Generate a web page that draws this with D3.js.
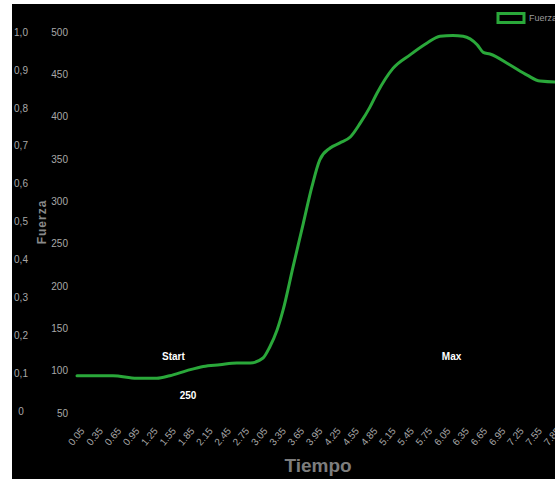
<!DOCTYPE html>
<html>
<head>
<meta charset="utf-8">
<script src="https://cdn.jsdelivr.net/npm/d3@7"></script>
<style>
  html, body { margin: 0; padding: 0; background: #fff; }
  svg { display: block; }
  text { font-family: "Liberation Sans Narrow", "Arial Narrow", "Liberation Sans", sans-serif; }
</style>
</head>
<body>
<svg id="chart" width="555" height="479"></svg>
<script>
// ---- data ----
const times = [0.05, 0.64, 1.03, 1.36, 1.57, 1.85, 2.12, 2.39, 2.67, 2.89, 3.10, 3.21, 3.33, 3.43, 3.59, 3.76, 3.90, 4.03, 4.20, 4.36, 4.53, 4.69, 4.85, 4.97, 5.23, 5.51, 5.79, 6.00, 6.21, 6.38, 6.61, 6.71, 6.82, 7.15, 7.43, 7.64, 7.89, 7.97];
const fuerza = [94, 94, 91, 91, 94, 100, 105, 107, 109, 109, 115, 128, 148, 172, 222, 274, 317, 349, 363, 369, 376, 392, 411, 428, 457, 473, 487, 495, 496, 495, 485, 476, 474, 461, 449, 442, 441, 441];
const xTickLabels = [0.05, 0.35, 0.65, 0.95, 1.25, 1.55, 1.85, 2.15, 2.45, 2.75, 3.05, 3.35, 3.65, 3.95, 4.25, 4.55, 4.85, 5.15, 5.45, 5.75, 6.05, 6.35, 6.65, 6.95, 7.25, 7.55, 7.85];
const forceTicks = [50, 100, 150, 200, 250, 300, 350, 400, 450, 500];
const leftTicks = [0, 0.1, 0.2, 0.3, 0.4, 0.5, 0.6, 0.7, 0.8, 0.9, 1.0];
const annotations = [
  { label: "Start", t: 1.63, v: 116.5 },
  { label: "250", t: 1.87, v: 70.5 },
  { label: "Max", t: 6.19, v: 117 }
];
const seriesName = "Fuerza";
const xTitle = "Tiempo";
const yTitle = "Fuerza";

// ---- layout ----
const svg = d3.select("#chart");
const green = "#2aa83a";
const tickColor = "#a8a8a8";

svg.append("rect").attr("x", 12).attr("y", 4).attr("width", 543).attr("height", 475).attr("fill", "#000");

const x = d3.scaleLinear().domain([0.05, 8.0]).range([77, 77 + 7.95 * 61]);
const yF = d3.scaleLinear().domain([50, 500]).range([413, 32]);
const yL = d3.scaleLinear().domain([0, 1]).range([411, 32]);

// left (empty) axis
const gL = svg.append("g").attr("transform", "translate(27,0)")
  .call(d3.axisLeft(yL).tickValues(leftTicks).tickSize(0).tickPadding(0)
    .tickFormat(d => d === 0 ? "0" : d3.format(".1f")(d).replace(".", ",")));
gL.select(".domain").remove();
gL.selectAll("text").attr("fill", tickColor).attr("font-size", 10).attr("text-anchor", "middle").attr("x", -6);

// force axis
const gF = svg.append("g").attr("transform", "translate(68,0)")
  .call(d3.axisLeft(yF).tickValues(forceTicks).tickSize(0).tickPadding(0));
gF.select(".domain").remove();
gF.selectAll("text").attr("fill", tickColor).attr("font-size", 10);

// x axis
const gX = svg.append("g").attr("transform", "translate(0,0)")
  .call(d3.axisBottom(x).tickValues(xTickLabels).tickSize(0).tickFormat(d3.format(".2f")));
gX.select(".domain").remove();
gX.selectAll(".tick text")
  .attr("fill", tickColor).attr("font-size", 10)
  .attr("text-anchor", "end")
  .attr("y", 0).attr("dy", "0.35em")
  .attr("transform", "translate(5,429) rotate(-50)");

// axis titles
svg.append("text").attr("x", 318).attr("y", 472).attr("text-anchor", "middle")
  .attr("fill", "#7d7d7d").attr("font-size", 19).attr("font-weight", "bold")
  .style("font-family", "'Liberation Sans', Arial, sans-serif")
  .text(xTitle);
svg.append("text").attr("transform", "translate(46,222) rotate(-90)").attr("text-anchor", "middle")
  .attr("fill", "#8a8a8a").attr("font-size", 12).attr("font-weight", "bold")
  .style("letter-spacing", "1px")
  .text(yTitle);

// line
const line = d3.line().x((d, i) => x(times[i])).y(d => yF(d)).curve(d3.curveMonotoneX);
svg.append("path").datum(fuerza).attr("d", line)
  .attr("fill", "none").attr("stroke", green).attr("stroke-width", 3)
  .attr("stroke-linejoin", "round").attr("stroke-linecap", "round");

// annotations
svg.selectAll(".ann").data(annotations).enter().append("text")
  .attr("class", "ann")
  .attr("x", d => x(d.t)).attr("y", d => yF(d.v)).attr("dy", "0.35em")
  .attr("text-anchor", "middle").attr("fill", "#fff")
  .attr("font-size", 10).attr("font-weight", "bold")
  .text(d => d.label);

// legend
svg.append("rect").attr("x", 498).attr("y", 13.5).attr("width", 26).attr("height", 9)
  .attr("fill", "#000").attr("stroke", green).attr("stroke-width", 3);
svg.append("text").attr("x", 529).attr("y", 18).attr("dy", "0.35em")
  .attr("fill", "#9a9a9a").attr("font-size", 9).text(seriesName);
</script>
</body>
</html>
